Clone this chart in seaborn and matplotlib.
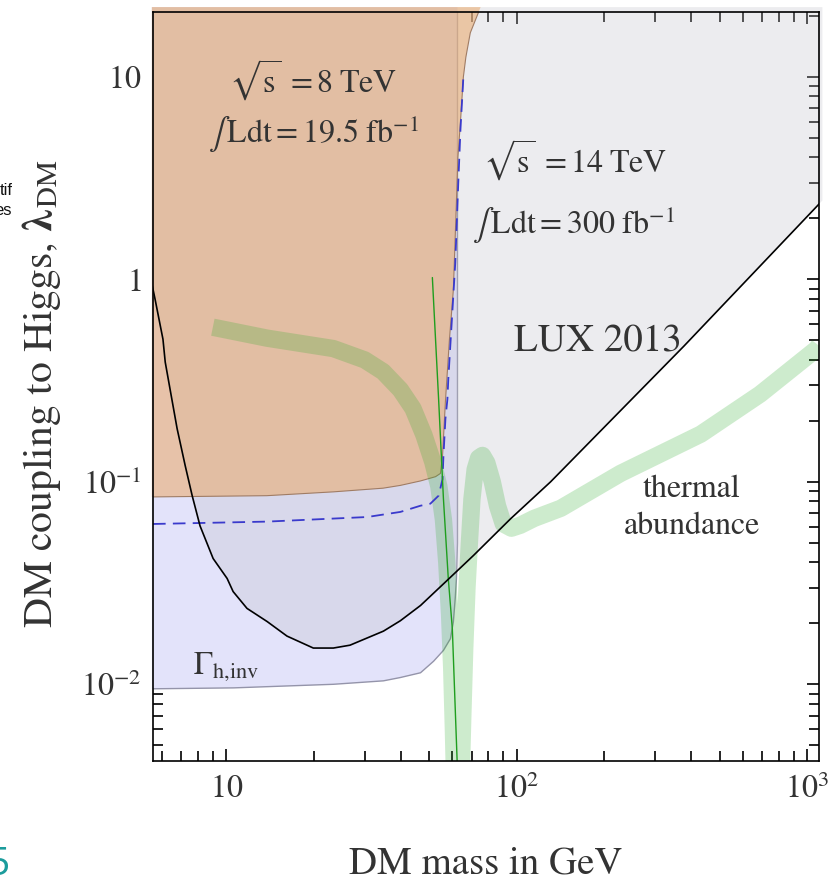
import matplotlib
matplotlib.use("Agg")
import matplotlib.pyplot as plt
import seaborn as sns
from matplotlib.ticker import FixedLocator, FixedFormatter, LogLocator, NullFormatter

# LUX 2013 direct-detection limit (region above is excluded)
lux_mass = [5.55, 5.69, 6.06, 6.17, 6.41, 6.78, 7.23, 7.64, 8.13, 9.02, 10.08, 10.57,
            11.8, 13.85, 16.2, 19.96, 23.4, 26.7, 34.8, 39.8, 46.7, 56.9, 71.1, 95.3,
            131, 377, 1130]
lux_coupling = [0.95, 0.80, 0.506, 0.39, 0.287, 0.183, 0.12, 0.0854, 0.0606, 0.0418,
                0.0333, 0.0287, 0.0237, 0.0204, 0.0173, 0.0151, 0.0151, 0.0156, 0.0183,
                0.0206, 0.0245, 0.032, 0.0433, 0.0656, 0.1, 0.468, 2.45]

# invisible Higgs width bound, Gamma_h,inv (open only below m_h/2)
inv_mass = [5.55, 10.6, 23.4, 34.8, 39.8, 46.7, 51.8, 56.0, 59.2, 60.6, 61.5, 62.1, 62.6]
inv_coupling = [0.0095, 0.0096, 0.0100, 0.0104, 0.0108, 0.0114, 0.0130, 0.0147, 0.0168,
                0.0204, 0.0266, 0.0333, 0.05]

# LHC 8 TeV, 19.5 fb^-1 exclusion boundary
lhc8_mass = [5.55, 13.8, 23.4, 34.7, 39.8, 46.7, 52.6, 54.7, 55.6, 56.9, 58.7, 60.6,
             61.8, 62.8, 64.1, 65.6, 66.9, 69.3, 75.2]
lhc8_coupling = [0.0842, 0.0854, 0.0892, 0.093, 0.096, 0.101, 0.106, 0.110, 0.134, 0.25,
                 0.5, 0.89, 2.0, 4.0, 6.0, 10.0, 12.5, 16.5, 22.1]

# LHC 14 TeV, 300 fb^-1 projected reach
lhc14_mass = [5.6, 13.85, 30.6, 39.8, 46.7, 50.5, 53.9, 55.6, 56.0, 56.9, 57.8, 58.2,
              60.1, 61.5, 63.0, 64.1, 65.6]
lhc14_coupling = [0.0619, 0.0636, 0.067, 0.071, 0.0762, 0.078, 0.0854, 0.103, 0.134,
                  0.205, 0.256, 0.32, 0.69, 1.2, 3.0, 5.5, 10.0]

# coupling giving the observed thermal relic abundance
relic_mass = [9.0, 13.85, 23.4, 30.0, 34.7, 39.8, 44.0, 48.0, 51.5, 54.0, 56.0, 57.5,
              58.8, 59.8, 60.6, 61.3, 64.3, 65.3, 66.3, 67.5, 68.8, 70.2, 72.0, 74.0,
              76.3, 79.0, 82.5, 86.0, 90.0, 96.0, 103, 115, 142, 228, 431, 690, 1077,
              1100]
relic_coupling = [0.58, 0.512, 0.455, 0.40, 0.35, 0.285, 0.23, 0.17, 0.125, 0.095, 0.065,
                  0.04, 0.022, 0.012, 0.006, 0.003, 0.003, 0.007, 0.015, 0.030, 0.050,
                  0.082, 0.115, 0.131, 0.135, 0.124, 0.100, 0.076, 0.062, 0.059, 0.061,
                  0.066, 0.074, 0.110, 0.172, 0.271, 0.452, 0.47]

# thin line through the Higgs resonance
res_mass = [51.3, 53.9, 56.0, 58.2, 60.1, 62.5]
res_coupling = [1.02, 0.256, 0.0826, 0.0333, 0.0188, 0.0040]

x_ticks = [10, 100, 1000]
x_tick_labels = [r"$10$", r"$10^{2}$", r"$10^{3}$"]
y_ticks = [0.01, 0.1, 1, 10]
y_tick_labels = [r"$10^{-2}$", r"$10^{-1}$", r"$1$", r"$10$"]

X_RANGE = (5.6, 1100)
Y_RANGE = (0.00418, 20.9)
X_EDGE = 5.55      # shaded regions run a hair past the frame
Y_EDGE = 22.1

TXT = "#333333"

sns.set_theme(style="ticks")
plt.rcParams["font.family"] = ["STIXGeneral", "DejaVu Serif"]
plt.rcParams["mathtext.fontset"] = "stix"

fig = plt.figure(figsize=(8.39, 8.82), dpi=100)
ax = fig.add_axes([153 / 839, 121 / 882, 666 / 839, 749 / 882])
ax.set_xscale("log")
ax.set_yscale("log")
ax.set_xlim(*X_RANGE)
ax.set_ylim(*Y_RANGE)

# shaded exclusion regions
ax.fill(inv_mass + [inv_mass[-1], X_EDGE], inv_coupling + [Y_EDGE, Y_EDGE],
        color="#E3E3FA", lw=0, zorder=0.6, clip_on=False)
sns.lineplot(x=inv_mass + [inv_mass[-1]], y=inv_coupling + [Y_RANGE[1]], ax=ax,
             color="#9494AA", lw=1.0, sort=False, estimator=None, zorder=0.65)
ax.fill(lux_mass + [lux_mass[-1], X_EDGE], lux_coupling + [Y_EDGE, Y_EDGE],
        color="#BEBEC6", alpha=0.28, lw=0, zorder=0.7, clip_on=False)
ax.fill(lhc8_mass + [X_EDGE], lhc8_coupling + [Y_EDGE],
        color="#EAAD74", alpha=0.6, lw=0, zorder=0.8, clip_on=False)
sns.lineplot(x=lhc8_mass, y=lhc8_coupling, ax=ax, color="#A07C64", lw=0.8,
             sort=False, estimator=None, zorder=0.9)

# thermal abundance band
sns.lineplot(x=relic_mass, y=relic_coupling, ax=ax, color="#28AA28", alpha=0.23,
             lw=12.5, sort=False, estimator=None, zorder=1.0,
             solid_capstyle="butt", solid_joinstyle="round")

# limit curves
sns.lineplot(x=lhc14_mass, y=lhc14_coupling, ax=ax, color="#3A3ACC", lw=1.3,
             linestyle=(0, (7, 4)), sort=False, estimator=None, zorder=1.2)
sns.lineplot(x=res_mass, y=res_coupling, ax=ax, color="#1E9E1E", lw=1.0,
             sort=False, estimator=None, zorder=1.3)
sns.lineplot(x=lux_mass, y=lux_coupling, ax=ax, color="black", lw=1.2,
             sort=False, estimator=None, zorder=1.4)

# axes, ticks, labels
ax.xaxis.set_major_locator(FixedLocator(x_ticks))
ax.xaxis.set_major_formatter(FixedFormatter(x_tick_labels))
ax.yaxis.set_major_locator(FixedLocator(y_ticks))
ax.yaxis.set_major_formatter(FixedFormatter(y_tick_labels))
for axis in (ax.xaxis, ax.yaxis):
    axis.set_minor_locator(LogLocator(base=10, subs=range(2, 10), numticks=30))
    axis.set_minor_formatter(NullFormatter())

ax.tick_params(which="both", direction="in", top=True, right=True, color="black",
               width=1.2, labelcolor=TXT)
ax.tick_params(which="major", length=8.5, labelsize=23)
ax.tick_params(which="minor", length=7.5)
ax.tick_params(axis="x", which="major", pad=10)
ax.tick_params(axis="y", which="major", pad=8.5)
for s in ax.spines.values():
    s.set_color("black")
    s.set_linewidth(1.2)
    s.set_visible(True)

ax.set_xlabel("DM mass in GeV", fontsize=28, color=TXT, va="baseline")
ax.xaxis.set_label_coords(0.5, -(873 - 761) / 749)
ax.set_ylabel(r"DM coupling to Higgs, $\boldsymbol{\lambda}_{\mathrm{DM}}$", fontsize=30,
              color=TXT, va="baseline")
ax.yaxis.set_label_coords(-(153 - 52) / 666, 0.49)

# annotations
ax.text(19.95, 8.34, r"$\sqrt{\mathrm{s}}\;=8\;\mathrm{TeV}$", ha="center",
        va="baseline", fontsize=23, color=TXT, zorder=3)
ax.text(19.95, 4.73, r"$\int\,\mathrm{Ldt}=19.5\ \mathrm{fb}^{-1}$", ha="center",
        va="baseline", fontsize=23, color=TXT, zorder=3)
ax.text(159.6, 3.37, r"$\sqrt{\mathrm{s}}\;=14\;\mathrm{TeV}$", ha="center",
        va="baseline", fontsize=23, color=TXT, zorder=3)
ax.text(157, 1.667, r"$\int\,\mathrm{Ldt}=300\ \mathrm{fb}^{-1}$", ha="center",
        va="baseline", fontsize=23, color=TXT, zorder=3)
ax.text(190, 0.442, "LUX 2013", ha="center", va="baseline", fontsize=28, color=TXT,
        zorder=3)
ax.text(401, 0.0843, "thermal", ha="center", va="baseline", fontsize=23, color=TXT,
        zorder=3)
ax.text(401, 0.0554, "abundance", ha="center", va="baseline", fontsize=23, color=TXT,
        zorder=3)
ax.text(7.70, 0.01133, r"$\Gamma_{\mathrm{h{,}inv}}$", ha="left", va="baseline",
        fontsize=23, color=TXT, zorder=3)

# slide fragments at the page edge
fig.text(13 / 839, 1 - 195 / 882, "tif", ha="right", va="baseline", fontsize=12,
         color="#111111", family="Liberation Sans")
fig.text(12 / 839, 1 - 215 / 882, "es", ha="right", va="baseline", fontsize=12,
         color="#111111", family="Liberation Sans")
fig.text(10 / 839, 1 - 875 / 882, "5", ha="right", va="baseline", fontsize=28,
         color="#1C9C9C", family="Open Sans")

fig.savefig("out.png", dpi=100)
